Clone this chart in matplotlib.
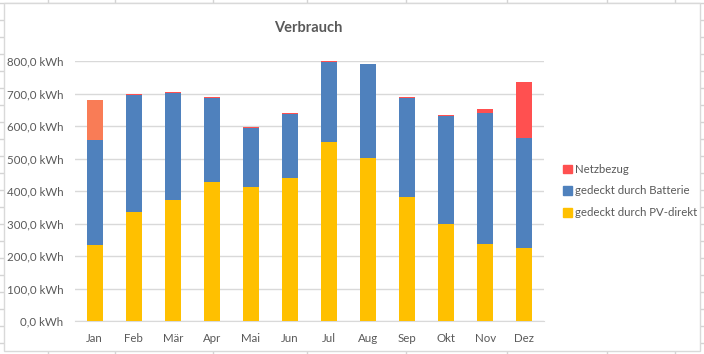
import numpy as np
import matplotlib.pyplot as plt
from matplotlib.patches import Rectangle, Patch
from matplotlib.lines import Line2D
from matplotlib.ticker import FuncFormatter

plt.rcParams['font.family'] = ['Lato', 'DejaVu Sans']

months = ['Jan', 'Feb', 'Mär', 'Apr', 'Mai', 'Jun', 'Jul', 'Aug', 'Sep', 'Okt', 'Nov', 'Dez']
pv_direkt = [234, 335, 372, 428, 413, 440, 551, 502, 381, 298, 237, 225]
batterie = [323, 359, 330, 259, 182, 197, 245, 289, 305, 333, 402, 339]
netzbezug = [123, 3, 3, 2, 2, 2, 3, 1, 2, 3, 13, 171]

grey_txt = '#595959'
c_pv = '#FFC000'
c_bat = '#4F81BD'
c_net = '#FF5050'
net_colors = ['#F97C56'] + [c_net] * 11

fig = plt.figure(figsize=(7.04, 3.54), dpi=100)

# spreadsheet cell lines behind the chart
for x in [48, 115, 213, 307, 406, 507, 607, 675]:
    fig.add_artist(Line2D([x / 704, x / 704], [0, 1], color='#D4D4D4', lw=1, zorder=-3))
for y in range(3, 354, 17):
    fig.add_artist(Line2D([0, 1], [1 - y / 354, 1 - y / 354], color='#D4D4D4', lw=1, zorder=-3))
fig.add_artist(Rectangle((4 / 704, 3 / 354), 696 / 704, 348 / 354, transform=fig.transFigure,
                         facecolor='white', edgecolor='#D9D9D9', lw=1, zorder=-2))

ax = fig.add_axes([75 / 704, 1 - 321 / 354, 469 / 704, 260 / 354])
ax.set_facecolor('none')
x = np.arange(len(months))
w = 0.41
ax.bar(x, pv_direkt, w, color=c_pv, zorder=3)
ax.bar(x, batterie, w, bottom=pv_direkt, color=c_bat, zorder=3)
bottom2 = np.array(pv_direkt) + np.array(batterie)
ax.bar(x, netzbezug, w, bottom=bottom2, color=net_colors, zorder=3)

ax.set_xlim(-0.5, len(months) - 0.5)
ax.set_ylim(0, 800)
ax.set_yticks(np.arange(0, 801, 100))
ax.yaxis.set_major_formatter(FuncFormatter(lambda v, p: f'{v:.1f}'.replace('.', ',') + ' kWh'))
ax.set_xticks(x)
ax.set_xticklabels(months)
ax.grid(axis='y', color='#D9D9D9', lw=1, zorder=0)
for s in ['top', 'right', 'left']:
    ax.spines[s].set_visible(False)
ax.spines['bottom'].set_color('#D9D9D9')
ax.tick_params(length=0, labelsize=8.3, colors=grey_txt)
ax.tick_params(axis='y', pad=8.5)
ax.tick_params(axis='x', pad=9)

fig.text(308 / 704, 1 - 28 / 354, 'Verbrauch', ha='center', va='center',
         fontsize=10.5, fontweight='bold', color=grey_txt)

handles = [Patch(color=c_net, label='Netzbezug'),
           Patch(color=c_bat, label='gedeckt durch Batterie'),
           Patch(color=c_pv, label='gedeckt durch PV-direkt')]
fig.legend(handles=handles, loc='center left', bbox_to_anchor=(553 / 704, 1 - 191 / 354),
           frameon=False, fontsize=8.2, handlelength=0.75, handleheight=0.75,
           handletextpad=0.3, labelspacing=0.95, labelcolor=grey_txt)

fig.savefig('out.png', dpi=100)
